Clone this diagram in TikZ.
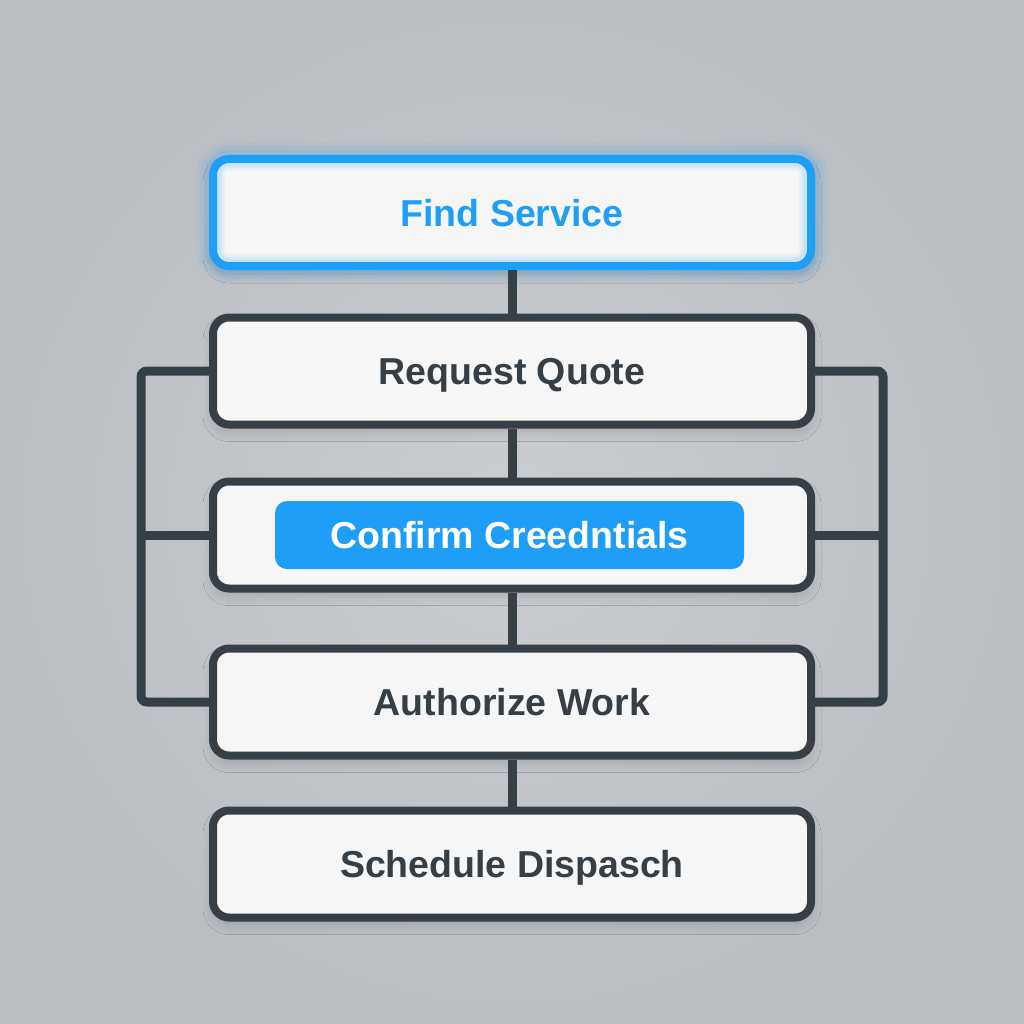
\documentclass[tikz,border=0pt]{standalone}
\usepackage{fontspec}
\setmainfont{Liberation Sans}
\usetikzlibrary{shadows.blur}
\definecolor{bgin}{HTML}{CACDD0}
\definecolor{bgout}{HTML}{BBBEC2}
\definecolor{ink}{HTML}{363E46}
\definecolor{accent}{HTML}{1E9EF6}
\definecolor{boxfill}{HTML}{F6F6F6}
\tikzset{
  labelfont/.style={font=\bfseries\fontsize{37.5}{42}\selectfont, text height=27pt, text depth=0pt},
  stepbox/.style={draw=ink, line width=8pt, fill=boxfill, rounded corners=16pt,
    minimum width=598pt, minimum height=107pt, inner sep=0pt, labelfont, text=ink,
    blur shadow={shadow xshift=0pt, shadow yshift=-7pt, shadow blur radius=10pt, shadow blur steps=12, shadow opacity=16}},
  topbox/.style={stepbox, draw=accent, text=accent},
  pill/.style={fill=accent, rounded corners=12pt, minimum width=469pt, minimum height=68pt,
    inner sep=0pt, text=white, labelfont},
  wire/.style={draw=ink, line width=9pt},
}
\begin{document}
\begin{tikzpicture}[x=1pt,y=-1pt]
  \useasboundingbox (0,0) rectangle (1024,1024);
  \shade[inner color=bgin, outer color=bgout] (0,0) rectangle (1024,1024);
  % glow around top box
  \foreach \w/\o in {34/0.05,26/0.07,18/0.10} {
    \draw[accent, opacity=\o, line width=\w pt, rounded corners=16pt] (213,159) rectangle (811,266);
  }
  \node[topbox] (find) at (512,212.5) {Find Service};
  \foreach \w/\o in {16/0.05,11/0.07,7/0.09} {
    \draw[accent, opacity=\o, line width=\w pt, rounded corners=12pt] (217,163) rectangle (807,262);
  }
  \node[stepbox] (req)  at (512,371) {Request Quote};
  \node[stepbox] (conf) at (512,535) {};
  \node[pill] (confl) at (509.5,535) {Confirm Creedntials};
  \node[stepbox] (auth) at (512,702) {Authorize Work};
  \node[stepbox] (sched) at (512,864) {Schedule Dispasch};
  \coordinate (lx) at (141,0);
  \coordinate (rx) at (883,0);
  % vertical connectors
  \draw[wire] (find.south) -- (req.north);
  \draw[wire] (req.south) -- (conf.north);
  \draw[wire] (conf.south) -- (auth.north);
  \draw[wire] (auth.south) -- (sched.north);
  % side brackets
  \draw[wire, rounded corners=6pt] (req.west) -- (req.west -| lx) -- (auth.west -| lx) -- (auth.west);
  \draw[wire] (conf.west -| lx) -- (conf.west);
  \draw[wire, rounded corners=6pt] (req.east) -- (req.east -| rx) -- (auth.east -| rx) -- (auth.east);
  \draw[wire] (conf.east -| rx) -- (conf.east);
\end{tikzpicture}
\end{document}
